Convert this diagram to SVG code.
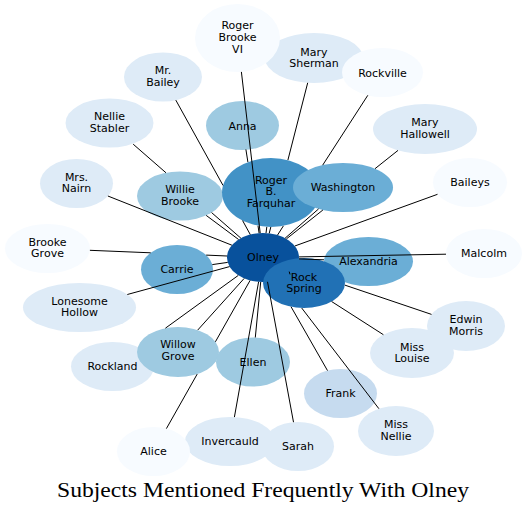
<svg xmlns="http://www.w3.org/2000/svg" width="527" height="511" viewBox="0 0 527 511">
<style>
.n text{font-family:"DejaVu Sans","Liberation Sans",sans-serif;font-size:11px;text-anchor:middle;fill:#000}
.c0{fill:#f7fbff}.c1{fill:#deebf7}.c2{fill:#c6dbef}.c3{fill:#9ecae1}.c4{fill:#6baed6}.c5{fill:#4292c6}.c6{fill:#2171b5}.c7{fill:#08519c}
.e path{fill:none;stroke:#000;stroke-width:1}
.t{font-family:"Liberation Serif","Times New Roman",serif;font-size:20px;text-anchor:middle;fill:#000}
</style>
<rect width="527" height="511" fill="#fff"/>
<g id="mary-sherman" class="n"><ellipse class="c1" cx="314" cy="58" rx="49" ry="25"/><text x="314" y="55.5">Mary<tspan x="314" dy="11.5">Sherman</tspan></text></g>
<g id="roger-brooke-vi" class="n"><ellipse class="c0" cx="237.5" cy="38" rx="42.5" ry="34"/><text x="237.5" y="29">Roger<tspan x="237.5" dy="11.8">Brooke</tspan><tspan x="237.5" dy="11.8">VI</tspan></text></g>
<g id="rockville" class="n"><ellipse class="c0" cx="382.5" cy="72.5" rx="40.5" ry="24.5"/><text x="382.5" y="76.5">Rockville</text></g>
<g id="mr-bailey" class="n"><ellipse class="c1" cx="163" cy="77" rx="39" ry="24.5"/><text x="163" y="74.3">Mr.<tspan x="163" dy="11.7">Bailey</tspan></text></g>
<g id="anna" class="n"><ellipse class="c3" cx="242.5" cy="125.5" rx="36.5" ry="24.5"/><text x="242.5" y="129.5">Anna</text></g>
<g id="nellie-stabler" class="n"><ellipse class="c1" cx="109.5" cy="123" rx="44" ry="24.5"/><text x="109.5" y="120">Nellie<tspan x="109.5" dy="11.6">Stabler</tspan></text></g>
<g id="mary-hallowell" class="n"><ellipse class="c1" cx="425" cy="129" rx="52" ry="25"/><text x="425" y="126.4">Mary<tspan x="425" dy="11.4">Hallowell</tspan></text></g>
<g id="mrs-nairn" class="n"><ellipse class="c1" cx="76.5" cy="183.5" rx="36.5" ry="24.5"/><text x="76.5" y="181">Mrs.<tspan x="76.5" dy="11.4">Nairn</tspan></text></g>
<g id="willie-brooke" class="n"><ellipse class="c3" cx="180" cy="196" rx="43" ry="24.5"/><text x="180" y="193.2">Willie<tspan x="180" dy="11.4">Brooke</tspan></text></g>
<g id="roger-b-farquhar" class="n"><ellipse class="c5" cx="271" cy="192.5" rx="49" ry="34.5"/><text x="271" y="184">Roger<tspan x="271" dy="11.4">B.</tspan><tspan x="271" dy="11.4">Farquhar</tspan></text></g>
<g id="washington" class="n"><ellipse class="c4" cx="343" cy="187.5" rx="50" ry="24.5"/><text x="343" y="191">Washington</text></g>
<g id="baileys" class="n"><ellipse class="c0" cx="470" cy="182.5" rx="37" ry="24.5"/><text x="470" y="186">Baileys</text></g>
<g id="brooke-grove" class="n"><ellipse class="c0" cx="47.5" cy="248.5" rx="42.5" ry="24.5"/><text x="47.5" y="245.6">Brooke<tspan x="47.5" dy="11.6">Grove</tspan></text></g>
<g id="carrie" class="n"><ellipse class="c4" cx="177" cy="269.5" rx="36" ry="24.5"/><text x="177" y="273">Carrie</text></g>
<g id="olney" class="n"><ellipse class="c7" cx="263" cy="257.5" rx="36" ry="24.5"/><text x="263" y="260.5">Olney</text></g>
<g id="alexandria" class="n"><ellipse class="c4" cx="368.5" cy="261.5" rx="44.5" ry="24.5"/><text x="368.5" y="264.5">Alexandria</text></g>
<g id="rock-spring" class="n"><ellipse class="c6" cx="304" cy="283" rx="41" ry="25"/><text x="304" y="280.5">Rock<tspan x="304" dy="11.5">Spring</tspan></text></g>
<g id="malcolm" class="n"><ellipse class="c0" cx="484" cy="253.5" rx="38" ry="24.5"/><text x="484" y="257">Malcolm</text></g>
<g id="lonesome-hollow" class="n"><ellipse class="c1" cx="79.5" cy="307.5" rx="56.5" ry="24.5"/><text x="79.5" y="304.9">Lonesome<tspan x="79.5" dy="11.4">Hollow</tspan></text></g>
<g id="edwin-morris" class="n"><ellipse class="c1" cx="466" cy="326" rx="39" ry="25"/><text x="466" y="323">Edwin<tspan x="466" dy="11.6">Morris</tspan></text></g>
<g id="miss-louise" class="n"><ellipse class="c1" cx="412" cy="353" rx="42" ry="25"/><text x="412" y="350.6">Miss<tspan x="412" dy="11.6">Louise</tspan></text></g>
<g id="rockland" class="n"><ellipse class="c1" cx="112.5" cy="366.5" rx="41.5" ry="24.5"/><text x="112.5" y="370">Rockland</text></g>
<g id="willow-grove" class="n"><ellipse class="c3" cx="178" cy="352" rx="41" ry="25"/><text x="178" y="348.2">Willow<tspan x="178" dy="11.6">Grove</tspan></text></g>
<g id="ellen" class="n"><ellipse class="c3" cx="253" cy="362" rx="37" ry="24.5"/><text x="253" y="365.5">Ellen</text></g>
<g id="frank" class="n"><ellipse class="c2" cx="340.5" cy="393.5" rx="36.5" ry="24.5"/><text x="340.5" y="397">Frank</text></g>
<g id="miss-nellie" class="n"><ellipse class="c1" cx="396" cy="431" rx="38" ry="25"/><text x="396" y="428">Miss<tspan x="396" dy="11.6">Nellie</tspan></text></g>
<g id="invercauld" class="n"><ellipse class="c1" cx="230" cy="441.5" rx="45" ry="24.5"/><text x="230" y="444.5">Invercauld</text></g>
<g id="sarah" class="n"><ellipse class="c1" cx="298" cy="446.5" rx="36" ry="24.5"/><text x="298" y="449.5">Sarah</text></g>
<g id="alice" class="n"><ellipse class="c0" cx="153.5" cy="451.5" rx="36.5" ry="24.5"/><text x="153.5" y="454.5">Alice</text></g>
<g id="connectors" class="e">
<path d="M260.2,233.1L241.4,71.9"/>
<path d="M269.2,233.4L270.8,227M287.9,160.1L307.7,82.8"/>
<path d="M277.5,235.1L283.4,225.9M322.7,165.1L367.8,95.3"/>
<path d="M286.4,238.9L322.9,210M375,168.7L398,150.4"/>
<path d="M285.1,238.2L318.6,208.9"/>
<path d="M294.8,246L437.5,194.3"/>
<path d="M299,256.9L446,254.2"/>
<path d="M299,258.9L324,259.8"/>
<path d="M344.8,285.1L431.5,314.4"/>
<path d="M331.6,301.5L383.4,334.7"/>
<path d="M301.7,308L378.9,408.7"/>
<path d="M291,306.7L327.5,370.6"/>
<path d="M267.5,281.8L293.5,422.2"/>
<path d="M258.6,281.8L234.4,417.1"/>
<path d="M260.7,282L255.3,337.5"/>
<path d="M250.1,280.4L215.4,341.8M197.2,374.1L166.4,428.6"/>
<path d="M244.2,278.4L197.7,330.1"/>
<path d="M238.3,275.4L165.4,328.2"/>
<path d="M229.6,266.6L127.3,294.5"/>
<path d="M227.1,256L206.2,255.1M150.7,252.8L89.9,250.3"/>
<path d="M227.7,262.4L212.3,264.6"/>
<path d="M231.9,245.2L107.9,196"/>
<path d="M238.6,239.5L206.2,215.4"/>
<path d="M240.9,238.2L211.6,212.6M166,172.8L133.2,144.2"/>
<path d="M250.3,234.6L242.6,220.6M223,185.4L175.8,100.1"/>
<path d="M259.1,233.1L258,225.8M247.9,162.1L245.9,149.4"/>
<path d="M266,233.1L266.8,226.9"/>
<path d="M289.2,271.6L290,274.4"/>
</g>
<text class="t" x="263" y="497" textLength="412" lengthAdjust="spacingAndGlyphs">Subjects Mentioned Frequently With Olney</text>
</svg>
